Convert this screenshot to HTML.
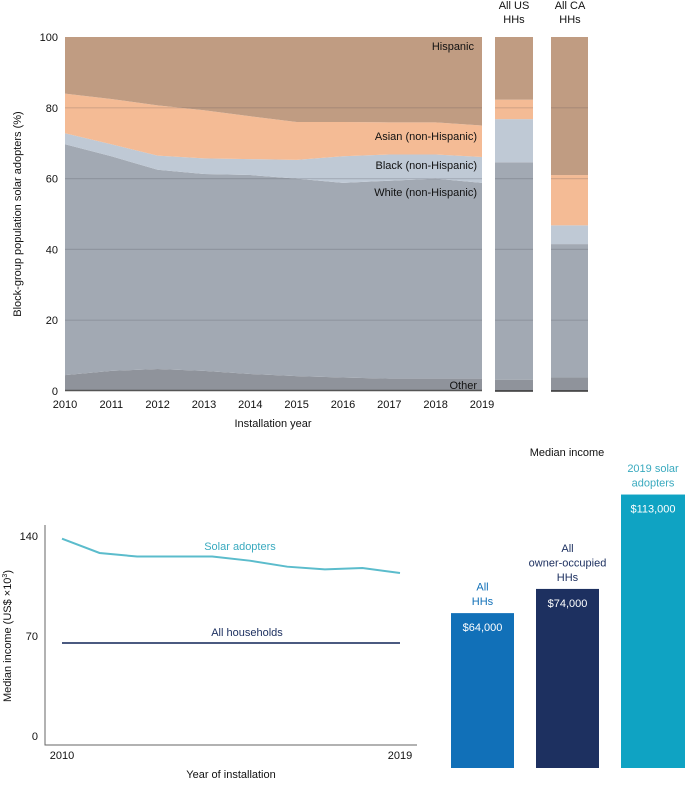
<!DOCTYPE html>
<html><head><meta charset="utf-8"><style>
body{margin:0;background:#fff;}
svg text{font-family:"Liberation Sans",sans-serif;}
</style></head><body>
<svg id="c" width="685" height="781" xmlns="http://www.w3.org/2000/svg"></svg>
<script>
const years=[2010,2011,2012,2013,2014,2015,2016,2017,2018,2019];
const otherTop=[4.5,5.7,6.2,5.7,4.8,4.2,3.8,3.5,3.5,3.5];
const whiteTop=[69.7,66.3,62.5,61.3,61,60,58.8,59.4,60,58.8];
const blackTop=[72.8,69.7,66.5,65.7,65.5,65.3,66.3,66.8,66.8,66.1];
const asianTop=[84,82.5,80.7,79.3,77.6,76,76,75.9,75.9,75];
const usBar=[3.2,64.6,76.8,82.3,100];
const caBar=[3.8,41.5,46.8,61,100];
const yTicks=[0,20,40,60,80,100];
const solarIncome=[138,128,125.5,125.5,125.5,122.6,118.4,116.5,117.5,114];
const allHHIncome=[65,65,65,65,65,65,65,65,65,65];
const incTicks=[0,70,140];
const barLabels=["All HHs","All owner-occupied HHs","2019 solar adopters"];
const barValues=[64,74,113];
const barTexts=["$64,000","$74,000","$113,000"];

const NS="http://www.w3.org/2000/svg";
const svg=document.getElementById('c');
function mk(t,a,p){const e=document.createElementNS(NS,t);for(const k in a)e.setAttribute(k,a[k]);(p||svg).appendChild(e);return e;}
function txt(x,y,s,a){const e=mk('text',Object.assign({x:x,y:y,'font-size':11,fill:'#111'},a||{}));e.textContent=s;return e;}
const X=y=>65+(y-2010)*(482-65)/9;
const Y=v=>391-v*3.54;
const cols=['#8f939b','#a2a9b3','#bfc9d5','#f4bb95','#c09c82'];
const layers=[otherTop,whiteTop,blackTop,asianTop,years.map(()=>100)];
const names=['area-other','area-white','area-black','area-asian','area-hispanic'];
layers.forEach((L,i)=>{
  const lo=i==0?years.map(()=>0):layers[i-1];
  let d='M'+years.map((y,j)=>X(y)+','+Y(L[j])).join('L');
  for(let j=years.length-1;j>=0;j--)d+='L'+X(years[j])+','+Y(lo[j]);
  const p=mk('path',{d:d+'Z',fill:cols[i]});
  
  
});
function bar(x0,x1,vals,nm){
  vals.forEach((v,i)=>{const lo=i?vals[i-1]:0;
    const r=mk('rect',{x:x0,y:Y(v),width:x1-x0,height:Y(lo)-Y(v),fill:cols[i]});
    
    });
  mk('line',{x1:x0,x2:x1,y1:391,y2:391,stroke:'#333','stroke-width':1.5});
}
bar(495,533,usBar,'us-bar');bar(551,588,caBar,'ca-bar');
yTicks.forEach(t=>{
  if(t>0&&t<100){[[65,482],[495,533],[551,588]].forEach(s=>mk('line',{x1:s[0],x2:s[1],y1:Y(t),y2:Y(t),stroke:'rgba(60,60,70,0.18)','stroke-width':1.2}));}
  const e=txt(58,Y(t)+4,String(t),{'text-anchor':'end'});
  
  
});
mk('line',{x1:65,x2:482,y1:390.5,y2:390.5,stroke:'#555','stroke-width':1.5});
years.forEach(y=>{const e=txt(X(y),408,String(y),{'text-anchor':'middle'});
  
  });
txt(273,427,'Installation year',{'text-anchor':'middle'});
txt(0,0,'Block-group population solar adopters (%)',{'text-anchor':'middle',transform:'translate(21,214) rotate(-90)'});
txt(474,50,'Hispanic',{'text-anchor':'end'});
txt(477,140,'Asian (non-Hispanic)',{'text-anchor':'end'});
txt(477,169,'Black (non-Hispanic)',{'text-anchor':'end'});
txt(477,196,'White (non-Hispanic)',{'text-anchor':'end'});
txt(477,389,'Other',{'text-anchor':'end'});
txt(514,9,'All US',{'text-anchor':'middle'});txt(514,23,'HHs',{'text-anchor':'middle'});
txt(570,9,'All CA',{'text-anchor':'middle'});txt(570,23,'HHs',{'text-anchor':'middle'});

// bottom line chart
const X2=y=>62+(y-2010)*(400-62)/9;
const Y2=v=>736-v*1.43;
mk('polyline',{points:'45,525 45,745 417,745',fill:'none',stroke:'#666','stroke-width':1});
incTicks.forEach(t=>{const e=txt(38,Y2(t)+4,String(t),{'text-anchor':'end'});
  
  });
txt(62,759,'2010',{'text-anchor':'middle'});txt(400,759,'2019',{'text-anchor':'middle'});
txt(231,778,'Year of installation',{'text-anchor':'middle'});
const yt=txt(0,0,'Median income (US$ ×10',{'text-anchor':'middle',transform:'translate(11,636) rotate(-90)'});

const sup=mk('tspan',{dy:-4,'font-size':7},yt);sup.textContent='3';
const cl=mk('tspan',{dy:4},yt);cl.textContent=')';
const sl=mk('polyline',{points:years.map((y,j)=>X2(y)+','+Y2(solarIncome[j])).join(' '),fill:'none',stroke:'#5bbccc','stroke-width':2});


const al=mk('polyline',{points:years.map((y,j)=>X2(y)+','+Y2(allHHIncome[j])).join(' '),fill:'none',stroke:'#4b5a80','stroke-width':2});


txt(240,550,'Solar adopters',{'text-anchor':'middle',fill:'#3aaabf'});
txt(247,636,'All households',{'text-anchor':'middle',fill:'#1d3060'});

// bars
txt(567,456,'Median income',{'text-anchor':'middle'});
const bx=[451,536,621],bw=[63,63,64],bc=['#1170b8','#1d3060','#0fa3c3'],lc=['#1170b8','#1d3060','#3aaabf'];
const lblLines=[["All","HHs"],["All","owner-occupied","HHs"],["2019 solar","adopters"]];
barValues.forEach((v,i)=>{
  const top=768-v*2.42;
  const r=mk('rect',{x:bx[i],y:top,width:bw[i],height:768-top,fill:bc[i]});
  
  
  const cx=bx[i]+bw[i]/2;
  txt(cx,top+18,barTexts[i],{'text-anchor':'middle',fill:'#fff'});
  const L=lblLines[i];
  L.forEach((s,k)=>txt(cx,top-8-(L.length-1-k)*14.5,s,{'text-anchor':'middle',fill:lc[i]}));
});
</script>
</body></html>
